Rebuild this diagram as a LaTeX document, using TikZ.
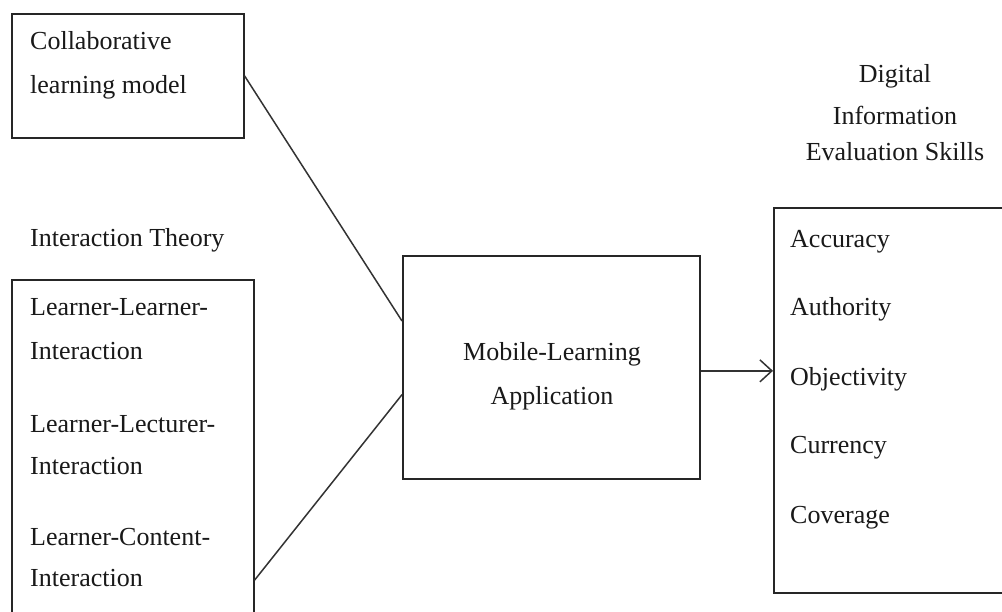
\documentclass[tikz,border=0pt]{standalone}
\usepackage{fontspec}
\setmainfont{Liberation Serif}
\usetikzlibrary{arrows.meta,calc}
\begin{document}
\begin{tikzpicture}[x=1pt,y=-1pt,
  box/.style={draw=black!85,line width=1.5pt,rectangle,inner sep=0pt,anchor=north west},
  txt/.style={anchor=base west,inner sep=0pt,font=\fontsize{26}{40}\selectfont,text=black!90},
  ctxt/.style={anchor=base,inner sep=0pt,font=\fontsize{26}{40}\selectfont,text=black!90},
  link/.style={draw=black!80,line width=1.5pt}]
\useasboundingbox[fill=white] (0,0) rectangle (1002,611);
% boxes
\node[box,minimum width=232pt,minimum height=124pt] (collab) at (11,13) {};
\node[box,minimum width=242pt,minimum height=350pt] (inter) at (11,279) {};
\node[box,minimum width=297pt,minimum height=223pt] (mob) at (402,255) {};
\node[box,minimum width=260pt,minimum height=385pt] (rb) at (773,207) {};
% texts
\node[txt] (t1) at (30,49) {Collaborative};
\node[txt] (t2) at (30,93) {learning model};
\node[txt] (t3) at (30,246) {Interaction Theory};
\node[txt] (l1) at (30,315) {Learner-Learner-};
\node[txt] (l2) at (30,359) {Interaction};
\node[txt] (l3) at (30,432) {Learner-Lecturer-};
\node[txt] (l4) at (30,474) {Interaction};
\node[txt] (l5) at (30,545) {Learner-Content-};
\node[txt] (l6) at (30,586) {Interaction};
\node[ctxt] (m1) at (552,360) {Mobile-Learning};
\node[ctxt] (m2) at (552,404) {Application};
\node[ctxt] (h1) at (895,82) {Digital};
\node[ctxt] (h2) at (895,124) {Information};
\node[ctxt] (h3) at (895,160) {Evaluation Skills};
\node[txt] (r1) at (790,247) {Accuracy};
\node[txt] (r2) at (790,315) {Authority};
\node[txt] (r3) at (790,385) {Objectivity};
\node[txt] (r4) at (790,453) {Currency};
\node[txt] (r5) at (790,523) {Coverage};
% connectors
\coordinate (ma) at ($(mob.north west)!0.294!(mob.south west)$);
\coordinate (mb) at ($(mob.north west)!0.622!(mob.south west)$);
\coordinate (ib) at ($(inter.north east)!0.857!(inter.south east)$);
\draw[link] (collab.east) -- (ma);
\draw[link] (ib) -- (mb);
\coordinate (ae) at ($(mob.north east)!0.516!(mob.south east)$);
\draw[link,-{Straight Barb[length=12pt,width=22pt]}] (ae) -- (ae -| rb.west);
\end{tikzpicture}
\end{document}
